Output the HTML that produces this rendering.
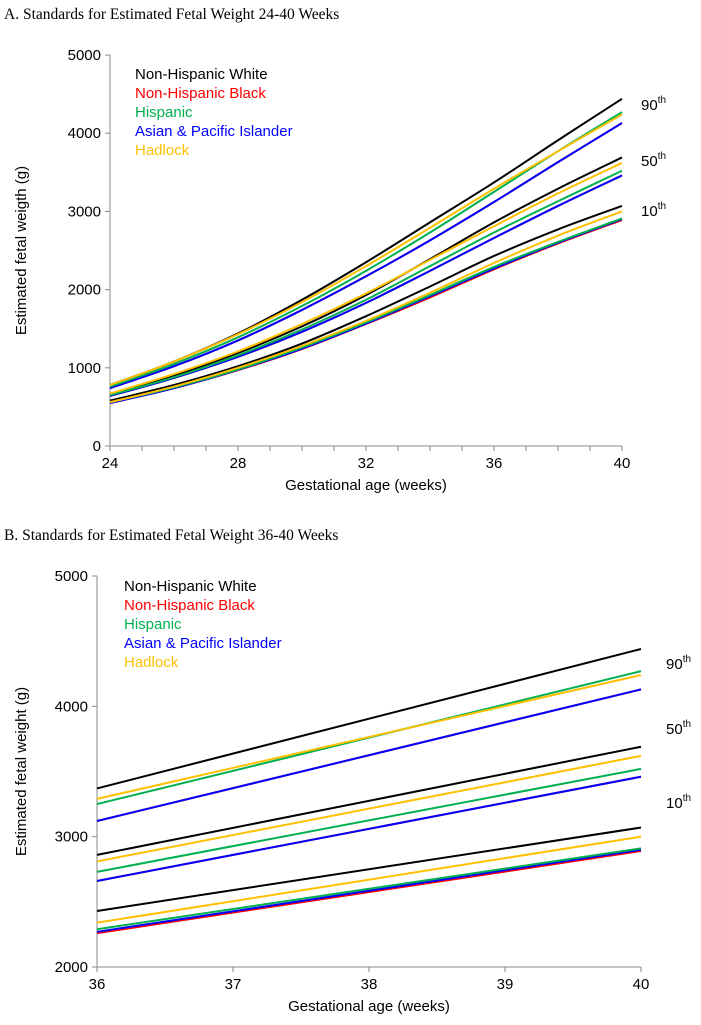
<!DOCTYPE html>
<html><head><meta charset="utf-8"><style>
body{margin:0;background:#fff;}
svg{display:block;font-family:"Liberation Sans",Arial,sans-serif;}
</style></head><body>
<svg id="chart" width="701" height="1025" viewBox="0 0 701 1025" xmlns="http://www.w3.org/2000/svg"></svg>
<script>
const weeksA=[24,26,28,30,32,34,36,38,40];
const seriesNames=["Non-Hispanic White","Non-Hispanic Black","Hispanic","Asian & Pacific Islander","Hadlock"];
const seriesColors=["#000000","#ff0000","#00b050","#0000ff","#ffc000"];
const W90=[780,1080,1440,1870,2350,2860,3370,3910,4440];
const B90=[740,1020,1350,1740,2170,2630,3120,3630,4130];
const H90=[760,1050,1390,1790,2240,2730,3250,3770,4270];
const A90=[740,1020,1350,1740,2170,2630,3120,3630,4130];
const D90=[780,1080,1430,1840,2300,2790,3290,3770,4240];
const W50=[660,900,1190,1530,1930,2390,2860,3290,3690];
const B50=[640,870,1140,1460,1830,2240,2660,3070,3460];
const H50=[650,880,1160,1490,1870,2300,2730,3130,3520];
const A50=[640,870,1140,1460,1830,2240,2660,3070,3460];
const D50=[670,920,1210,1560,1950,2380,2810,3230,3620];
const W10=[580,780,1020,1310,1660,2040,2430,2770,3070];
const B10=[550,740,970,1240,1560,1900,2260,2590,2890];
const H10=[560,750,980,1260,1580,1930,2290,2610,2910];
const A10=[550,740,975,1245,1565,1915,2270,2600,2900];
const D10=[560,760,1000,1280,1600,1960,2340,2690,3000];
const ticksAx=[24,28,32,36,40];
const ticksAy=[0,1000,2000,3000,4000,5000];
const ticksBx=[36,37,38,39,40];
const ticksBy=[2000,3000,4000,5000];
const pctLabels=["90","50","10"];

const svg=document.getElementById('chart');
const NS="http://www.w3.org/2000/svg";
function mk(tag,attrs,parent){const e=document.createElementNS(NS,tag);for(const k in attrs)e.setAttribute(k,attrs[k]);(parent||svg).appendChild(e);return e;}
function txt(s,attrs,parent){const e=mk('text',attrs,parent);e.textContent=s;return e;}

const groups=[[W90,B90,H90,A90,D90],[W50,B50,H50,A50,D50],[W10,B10,H10,A10,D10]];
const drawOrder=[0,1,3,2,4];

function smoothPath(pts){
  let d=`M${pts[0][0]},${pts[0][1]}`;
  for(let i=0;i<pts.length-1;i++){
    const p0=pts[i-1]||pts[i],p1=pts[i],p2=pts[i+1],p3=pts[i+2]||p2;
    const c1=[p1[0]+(p2[0]-p0[0])/6,p1[1]+(p2[1]-p0[1])/6];
    const c2=[p2[0]-(p3[0]-p1[0])/6,p2[1]-(p3[1]-p1[1])/6];
    d+=` C${c1[0]},${c1[1]} ${c2[0]},${c2[1]} ${p2[0]},${p2[1]}`;
  }
  return d;
}

function panel(cfg){
  const g=mk('g',{});
  
  
  const X=v=>cfg.x0+(v-cfg.xmin)/(cfg.xmax-cfg.xmin)*(cfg.x1-cfg.x0);
  const Y=v=>cfg.y0-(v-cfg.ymin)/(cfg.ymax-cfg.ymin)*(cfg.y0-cfg.y1);
  const t=txt(cfg.title,{x:4,y:cfg.titleY,'font-family':'"Liberation Serif",serif','font-size':15.5,fill:'#000'},g);
  
  
  const ax=mk('g',{stroke:'#888','stroke-width':1},g);
  
  
  mk('line',{x1:cfg.x0,y1:cfg.y0,x2:cfg.x1,y2:cfg.y0},ax);
  mk('line',{x1:cfg.x0,y1:cfg.y0,x2:cfg.x0,y2:cfg.y1},ax);
  for(let w=cfg.xmin;w<=cfg.xmax;w++){mk('line',{x1:X(w),y1:cfg.y0,x2:X(w),y2:cfg.y0+5},ax);}
  cfg.ty.forEach(v=>{mk('line',{x1:cfg.x0-5,y1:Y(v),x2:cfg.x0,y2:Y(v)},ax);
    const l=txt(String(v),{x:cfg.x0-9,y:Y(v)+5,'text-anchor':'end','font-size':15,fill:'#000'},g);
    
    });
  cfg.tx.forEach(v=>{const l=txt(String(v),{x:X(v),y:cfg.y0+22,'text-anchor':'middle','font-size':15,fill:'#000'},g);
    
    });
  const xt=txt('Gestational age (weeks)',{x:(cfg.x0+cfg.x1)/2,y:cfg.y0+44,'text-anchor':'middle','font-size':15,fill:'#000'},g);
  
  
  const yc=(cfg.y0+cfg.y1)/2;
  const yt=txt(cfg.ylabel,{x:26,y:yc,'text-anchor':'middle','font-size':15,fill:'#000',transform:`rotate(-90 26 ${yc})`},g);
  
  
  groups.forEach((grp,gi)=>{
    drawOrder.forEach(si=>{
      const vals=grp[si];
      const pts=[];
      weeksA.forEach((w,i)=>{
        if(cfg.linear){ if(w===cfg.xmin||w===cfg.xmax) pts.push([X(w),Y(vals[i])]); }
        else if(w>=cfg.xmin) pts.push([X(w),Y(vals[i])]);
      });
      const p=mk('path',{d:cfg.linear?('M'+pts.map(q=>q.join(',')).join(' L')):smoothPath(pts),fill:'none',stroke:seriesColors[si],'stroke-width':2},g);
      
      
    });
    const lab=txt(pctLabels[gi],{x:cfg.pctX,y:cfg.pctY[gi],'font-size':15,fill:'#000'},g);
    
    
    const sup=mk('tspan',{'font-size':10,dy:-7},lab);sup.textContent='th';
  });
  seriesNames.forEach((n,i)=>{
    const l=txt(n,{x:cfg.legX,y:cfg.legY+i*19,'font-size':15,fill:seriesColors[i]},g);
    
    
  });
}
panel({name:'panel-a',title:'A. Standards for Estimated Fetal Weight 24-40 Weeks',titleY:19,x0:110,x1:622,y0:446,y1:55,xmin:24,xmax:40,ymin:0,ymax:5000,tx:ticksAx,ty:ticksAy,ylabel:'Estimated fetal weigth (g)',pctX:641,pctY:[110,166,216],legX:135,legY:79,linear:false});
panel({name:'panel-b',title:'B. Standards for Estimated Fetal Weight 36-40 Weeks',titleY:540,x0:97,x1:641,y0:967,y1:576,xmin:36,xmax:40,ymin:2000,ymax:5000,tx:ticksBx,ty:ticksBy,ylabel:'Estimated fetal weight (g)',pctX:666,pctY:[669,734,808],legX:124,legY:591,linear:true});
</script>
</body></html>
